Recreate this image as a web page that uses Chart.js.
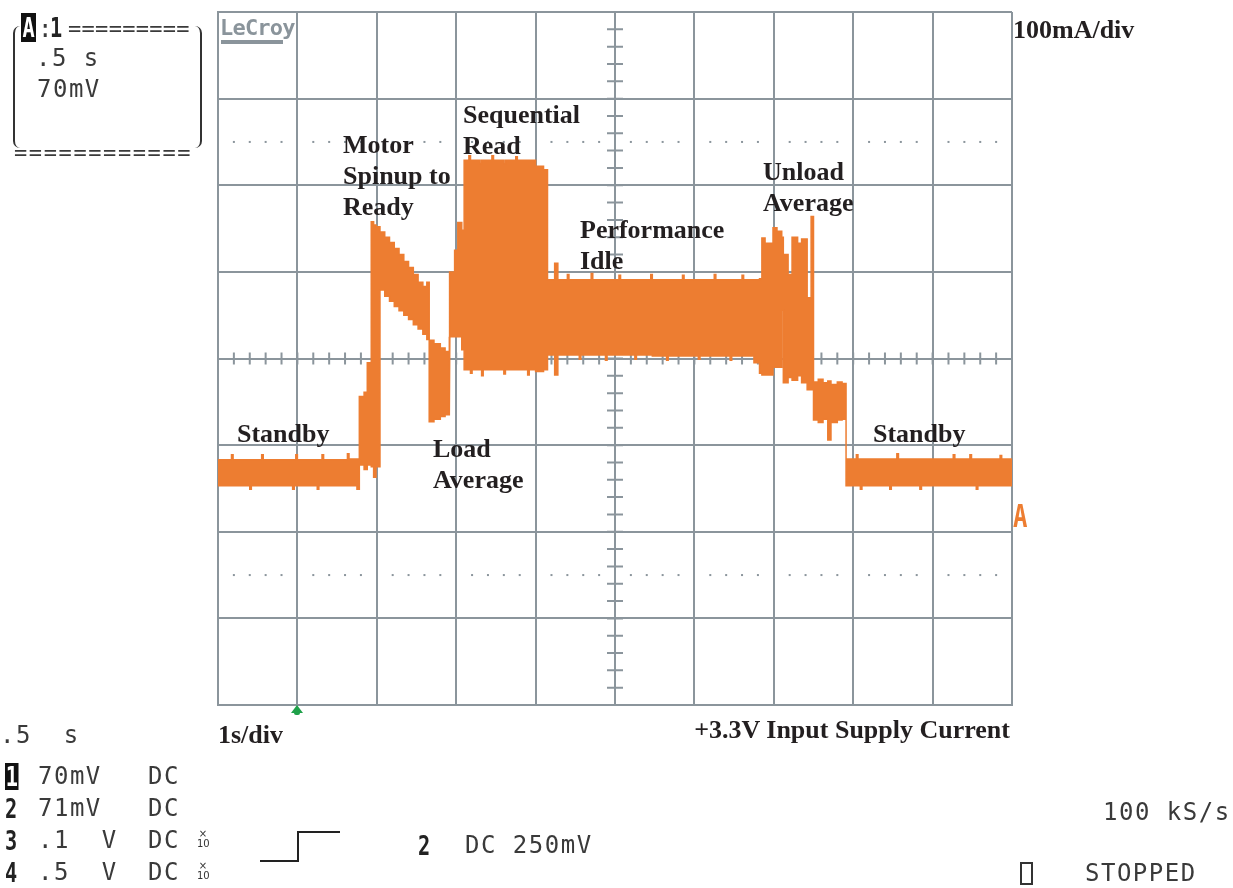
<!DOCTYPE html>
<html>
<head>
<meta charset="utf-8">
<title>+3.3V Input Supply Current</title>
<script src="https://cdn.jsdelivr.net/npm/chart.js@4.4.1/dist/chart.umd.min.js"></script>
<style>
  body { margin: 0; background: #fff; }
  #wrap { position: relative; width: 1233px; height: 888px; overflow: hidden; }
  #scope { position: absolute; left: 0; top: 0; }
  .note { position: absolute; font: bold 26px "Liberation Serif", "Times New Roman", serif; color: #231f20; line-height: 31px; white-space: nowrap; }
  .lcd { position: absolute; font: 24px "DejaVu Sans Mono", monospace; color: #3a3a3a; letter-spacing: 1.5px; white-space: pre; line-height: 24px; }
  .ch { position: absolute; font: bold 27px "DejaVu Sans Mono", monospace; color: #222; line-height: 27px; transform: scaleX(0.75); transform-origin: left; }
  .inv { background: #111; color: #fff; }
  .x10 { position: absolute; font: 10px "DejaVu Sans", sans-serif; color: #333; line-height: 10px; text-align: center; width: 12px; }
</style>
</head>
<body>
<div id="wrap">
  <canvas id="scope" width="1233" height="888"></canvas>

  <!-- top-left scope box -->
  <div style="position:absolute; left:13px; top:26px; width:185px; height:122px; border-left:2px solid #333; border-right:2px solid #333; border-radius:7px;"></div>
  <div class="ch inv" style="left:21px; top:13px; padding:1px 2px;">A</div>
  <div class="lcd" style="left:38px; top:17px;">:</div>
  <div class="ch" style="left:50px; top:14px;">1</div>
  <div class="lcd" style="left:68px; top:17px; font-size:22px; letter-spacing:0.3px;">=========</div>
  <div class="lcd" style="left:36px; top:46px;">.5 s</div>
  <div class="lcd" style="left:37px; top:77px;">70mV</div>
  <div class="lcd" style="left:14px; top:141px; font-size:22px; letter-spacing:1.6px;">============</div>

  <div style="position:absolute; left:220px; top:16px; font:bold 22px 'DejaVu Sans Mono', monospace; letter-spacing:-0.8px; color:#8a949b; line-height:24px;">LeCroy</div>
  <div style="position:absolute; left:221px; top:40px; width:62px; height:4px; background:#8a949b;"></div>

  <div class="note" style="left:1013px; top:14px;">100mA/div</div>

  <!-- annotations -->
  <div class="note" style="left:343px; top:129px;">Motor<br>Spinup to<br>Ready</div>
  <div class="note" style="left:463px; top:99px;">Sequential<br>Read</div>
  <div class="note" style="left:580px; top:214px;">Performance<br>Idle</div>
  <div class="note" style="left:763px; top:156px;">Unload<br>Average</div>
  <div class="note" style="left:237px; top:418px;">Standby</div>
  <div class="note" style="left:433px; top:433px;">Load<br>Average</div>
  <div class="note" style="left:873px; top:418px;">Standby</div>

  <!-- markers -->
  <div style="position:absolute; left:291px; top:705px; width:0; height:0; border-left:6px solid transparent; border-right:6px solid transparent; border-bottom:8px solid #1fa14a;"></div>
  <div style="position:absolute; left:294px; top:710px; width:6px; height:5px; background:#1fa14a; border-radius:2px;"></div>
  <div class="ch" style="left:1013px; top:500px; color:#ed7d31; font-size:32px; line-height:32px;">A</div>

  <!-- bottom texts -->
  <div class="note" style="left:218px; top:719px;">1s/div</div>
  <div class="note" style="right:223px; top:714px;">+3.3V Input Supply Current</div>

  <div class="lcd" style="left:0px; top:723px;">.5  s</div>

  <div class="ch inv" style="left:5px; top:763px; padding:0 1px;">1</div>
  <div class="lcd" style="left:38px; top:764px;">70mV</div>
  <div class="lcd" style="left:148px; top:764px;">DC</div>

  <div class="ch" style="left:5px; top:795px;">2</div>
  <div class="lcd" style="left:38px; top:796px;">71mV</div>
  <div class="lcd" style="left:148px; top:796px;">DC</div>

  <div class="ch" style="left:5px; top:827px;">3</div>
  <div class="lcd" style="left:38px; top:828px;">.1  V</div>
  <div class="lcd" style="left:148px; top:828px;">DC</div>
  <div class="x10" style="left:197px; top:829px;">×<br>10</div>

  <div class="ch" style="left:5px; top:859px;">4</div>
  <div class="lcd" style="left:38px; top:860px;">.5  V</div>
  <div class="lcd" style="left:148px; top:860px;">DC</div>
  <div class="x10" style="left:197px; top:861px;">×<br>10</div>

  <div style="position:absolute; left:260px; top:831px; width:37px; height:29px; border-right:2px solid #222; border-bottom:2px solid #222;"></div>
  <div style="position:absolute; left:297px; top:831px; width:43px; height:2px; background:#222;"></div>

  <div class="ch" style="left:418px; top:832px;">2</div>
  <div class="lcd" style="left:465px; top:833px;">DC 250mV</div>

  <div class="lcd" style="left:1103px; top:800px;">100 kS/s</div>
  <div style="position:absolute; left:1020px; top:862px; width:9px; height:19px; border:2px solid #333;"></div>
  <div class="lcd" style="left:1085px; top:861px;">STOPPED</div>
</div>

<script>
// time in seconds (1 s/div); each sample holds until the next one
const timeS = [
  0.00, 0.17, 0.19, 0.40, 0.42, 0.55, 0.57, 0.94, 0.96, 0.98, 1.00, 1.25, 1.27, 1.31, 1.33, 1.63, 1.65, 1.75,
  1.78, 1.84, 1.88, 1.93, 1.96, 1.99, 2.04, 2.10, 2.16, 2.22, 2.28, 2.34, 2.40, 2.46, 2.52, 2.58, 2.63,
  2.66, 2.72, 2.80, 2.86, 2.91, 2.92, 2.98, 3.02, 3.07,
  3.10, 3.16, 3.18, 3.20, 3.30, 3.32, 3.34, 3.45, 3.47, 3.60, 3.62, 3.75, 3.77, 3.90, 3.92, 4.00, 4.10,
  4.15, 4.24, 4.28, 4.40, 4.42, 4.55, 4.57, 4.70, 4.72, 4.88, 4.90, 5.05, 5.07, 5.25, 5.27, 5.45, 5.47,
  5.65, 5.67, 5.85, 5.87, 6.05, 6.07, 6.25, 6.27, 6.45, 6.47, 6.60, 6.62, 6.75, 6.82,
  6.85, 6.89, 6.99, 7.04, 7.10, 7.12, 7.18, 7.23, 7.30, 7.35, 7.42, 7.47,
  7.50, 7.56, 7.62, 7.68, 7.72, 7.80, 7.86,
  7.91, 8.04, 8.06, 8.09, 8.11, 8.46, 8.48, 8.55, 8.57, 8.84, 8.86, 9.26, 9.28, 9.47, 9.49, 9.55, 9.57, 9.85, 9.87, 10.00
];
// top of the envelope, mA (100 mA/div)
const upperMA = [
  283, 289, 283, 283, 283, 289, 283, 283, 283, 289, 283, 283, 283, 289, 283, 290, 284, 284,
  356, 361, 395, 558, 554, 552, 546, 540, 534, 527, 520, 512, 505, 497, 488, 483, 488,
  421, 417, 412, 408, 404, 500, 525, 557, 548,
  629, 634, 629, 629, 625, 629, 629, 634, 629, 625, 629, 633, 629, 629, 629, 622, 618,
  491, 510, 491, 497, 491, 491, 491, 498, 491, 491, 491, 496, 491, 491, 491, 497, 491,
  491, 491, 496, 491, 491, 491, 497, 491, 491, 491, 496, 491, 491, 492,
  539, 533, 551, 547, 540, 520, 497, 540, 533, 538, 470, 564,
  373, 376, 372, 374, 370, 373, 371,
  284, 289, 284, 284, 284, 284, 284, 290, 284, 284, 284, 289, 284, 289, 284, 284, 284, 288, 284, 284
];
// bottom of the envelope, mA
const lowerMA = [
  253, 253, 253, 249, 253, 253, 253, 249, 253, 253, 253, 249, 253, 253, 253, 253, 253, 249,
  277, 272, 277, 275, 263, 275, 479, 472, 466, 460, 455, 450, 445, 439, 434, 428, 422,
  327, 330, 333, 335, 337, 425, 425, 425, 410,
  387, 387, 383, 387, 387, 380, 387, 387, 387, 382, 387, 387, 387, 381, 387, 385, 387,
  404, 381, 404, 404, 404, 399, 404, 404, 404, 398, 404, 404, 404, 399, 404, 404, 403,
  398, 403, 403, 403, 399, 403, 403, 403, 398, 403, 403, 403, 395, 383,
  381, 381, 390, 390, 456, 372, 378, 375, 380, 372, 364, 364,
  329, 326, 330, 306, 326, 329, 330,
  253, 253, 253, 249, 253, 249, 253, 253, 253, 249, 253, 253, 253, 253, 253, 249, 253, 253, 253, 253
];

const traceColor = '#ed7d31';
const gridColor = '#8b959c';

// sample-and-hold: each value is kept until the next sample time
function holdPoints(values) {
  const pts = [];
  timeS.forEach((t, i) => {
    pts.push({ x: t, y: values[i] });
    if (i < timeS.length - 1) pts.push({ x: timeS[i + 1], y: values[i] });
  });
  return pts;
}

// one closed outline: along the maxima, then back along the minima
const envelope = holdPoints(upperMA).concat(holdPoints(lowerMA).reverse());

// centre-axis ticks and dotted rows of the scope graticule
const scopeGraticule = {
  id: 'scopeGraticule',
  beforeDatasetsDraw(chart) {
    const ctx = chart.ctx;
    const x = chart.scales.x, y = chart.scales.y;
    const cx = x.getPixelForValue(5), cy = y.getPixelForValue(400);
    ctx.save();
    ctx.strokeStyle = gridColor;
    ctx.lineWidth = 2;
    ctx.beginPath();
    for (let i = 0; i <= 50; i++) {
      const px = x.getPixelForValue(i / 5);
      ctx.moveTo(px, cy - 6);
      ctx.lineTo(px, cy + 6);
    }
    for (let i = 0; i <= 40; i++) {
      const py = y.getPixelForValue(i * 20);
      ctx.moveTo(cx - 8, py);
      ctx.lineTo(cx + 8, py);
    }
    ctx.stroke();
    ctx.fillStyle = gridColor;
    [150, 650].forEach(v => {
      const py = y.getPixelForValue(v);
      for (let i = 0; i <= 50; i++) {
        if (i % 5 === 0) continue;
        const px = x.getPixelForValue(i / 5);
        ctx.fillRect(px - 1, py - 1, 2, 2);
      }
    });
    ctx.restore();
  }
};

new Chart(document.getElementById('scope'), {
  type: 'line',
  data: {
    datasets: [{
      label: 'Ch1 current',
      data: envelope,
      borderColor: traceColor,
      backgroundColor: traceColor,
      borderWidth: 1.5,
      pointRadius: 0,
      fill: 'shape'
    }]
  },
  options: {
    responsive: false,
    animation: false,
    layout: { padding: { left: 218, top: 12, right: 221, bottom: 183 } },
    plugins: { legend: { display: false }, tooltip: { enabled: false } },
    scales: {
      x: {
        type: 'linear', min: 0, max: 10,
        ticks: { display: false, stepSize: 1 },
        grid: { color: gridColor, lineWidth: 2, drawTicks: false },
        border: { color: gridColor, width: 2 }
      },
      y: {
        min: 0, max: 800,
        ticks: { display: false, stepSize: 100 },
        grid: { color: gridColor, lineWidth: 2, drawTicks: false },
        border: { color: gridColor, width: 2 }
      }
    }
  },
  plugins: [scopeGraticule]
});
</script>
</body>
</html>
